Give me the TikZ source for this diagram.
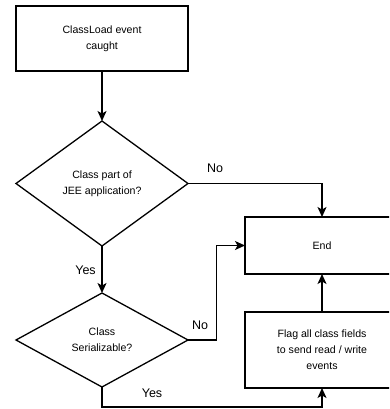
\documentclass[tikz,border=0pt]{standalone}
\usepackage{fontspec}
\setmainfont{Liberation Sans}
\usetikzlibrary{shapes.geometric,arrows.meta}
\begin{document}
\begin{tikzpicture}[x=1pt,y=-1pt,
  every node/.style={inner sep=0pt,outer sep=0pt},
  boxtext/.style={font=\fontsize{10.6}{16}\selectfont,align=center},
  procbox/.style={draw,line width=1.3pt,rectangle,boxtext},
  decision/.style={draw,line width=1.3pt,diamond,boxtext},
  lbl/.style={font=\fontsize{12.5}{15}\selectfont},
  conn/.style={line width=1.3pt,-{Stealth[length=10pt,width=9pt,inset=2.5pt]}},
  plainconn/.style={line width=1.3pt}]
\useasboundingbox (0,0) rectangle (389,409);
\clip (0,0) rectangle (389,409);
\node[procbox,minimum width=172pt,minimum height=65pt] (start) at (102,38.5) {ClassLoad event\\caught};
\node[decision,minimum width=172pt,minimum height=125pt] (d1) at (102,183.5) {Class part of\\JEE application?};
\node[decision,minimum width=172pt,minimum height=94pt] (d2) at (102,340) {Class\\Serializable?};
\node[procbox,minimum width=154pt,minimum height=57pt] (end) at (322,245.5) {End};
\node[procbox,minimum width=154pt,minimum height=76pt] (flag) at (322,350) {Flag all class fields\\to send read / write\\events};
\draw[conn] (start.south) -- (d1.north);
\draw[conn] (d1.east) -| (end.north);
\node[lbl] (no1) at (215,168) {No};
\draw[conn] (d1.south) -- (d2.north);
\node[lbl] (yes1) at (85.5,270) {Yes};
\draw[conn] (d2.east) -- ++(28.7,0) |- (end.west);
\node[lbl] (no2) at (200,325) {No};
\draw[conn] (flag.north) -- (end.south);
\draw[conn] (d2.south) -- ++(0,20) -| (flag.south);
\node[lbl] (yes2) at (152,393) {Yes};
\end{tikzpicture}
\end{document}
